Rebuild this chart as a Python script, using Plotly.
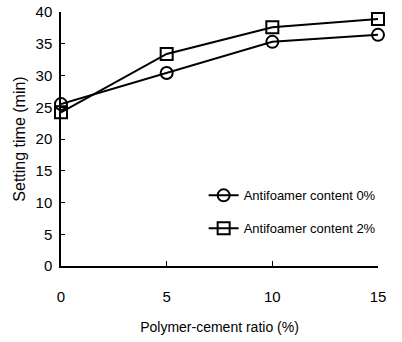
import plotly.graph_objects as go

ratio = [0, 5, 10, 15]
antifoam_0 = [25.5, 30.4, 35.3, 36.4]
antifoam_2 = [24.2, 33.4, 37.6, 38.9]
names = ["Antifoamer content 0%", "Antifoamer content 2%"]

fig = go.Figure()
fig.add_trace(go.Scatter(x=ratio, y=antifoam_0, name=names[0], mode="lines+markers", legendgroup="a",
                         line=dict(color="black", width=2),
                         marker=dict(symbol="circle-open", size=12, color="black", line=dict(width=2)),
                         cliponaxis=False))
fig.add_trace(go.Scatter(x=ratio, y=antifoam_2, name=names[1], mode="lines+markers", legendgroup="b",
                         line=dict(color="black", width=2),
                         marker=dict(symbol="square-open", size=12, color="black", line=dict(width=2)),
                         cliponaxis=False))

fig.update_layout(
    width=402, height=342,
    margin=dict(l=61, r=24, t=12, b=76),
    paper_bgcolor="white", plot_bgcolor="white",
    font=dict(family="Liberation Sans", color="black", size=15),
    showlegend=True,
    legend=dict(x=0.45, y=0.213, xanchor="left", yanchor="middle",
                font=dict(family="Liberation Sans", size=13),
                bgcolor="rgba(0,0,0,0)", tracegroupgap=13, itemwidth=30),
    xaxis=dict(range=[0, 15], tickvals=[0, 5, 10, 15], showline=True, linecolor="black", linewidth=1.5,
               ticks="inside", ticklen=5, tickcolor="black", showgrid=False, zeroline=False,
               ticklabelstandoff=16, automargin=False,
               title=dict(text="Polymer-cement ratio (%)", standoff=18, font=dict(size=14))),
    yaxis=dict(range=[0, 40], tickvals=[0, 5, 10, 15, 20, 25, 30, 35, 40], showline=True, linecolor="black",
               linewidth=1.5, ticks="inside", ticklen=4, tickcolor="black", showgrid=False, zeroline=False,
               ticklabelstandoff=4, automargin=False,
               title=dict(text="Setting time (min)", standoff=6, font=dict(size=16))),
)

fig.write_html("out.html", config={"displayModeBar": False},
               post_script="document.body.style.margin='0';document.body.style.overflow='hidden';")
